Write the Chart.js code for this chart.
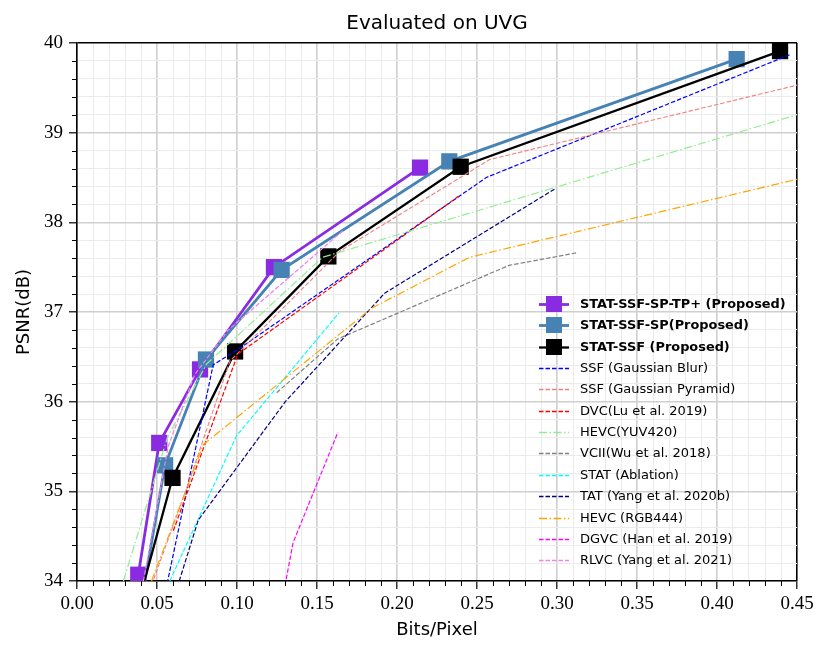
<!DOCTYPE html>
<html lang="en">
<head>
<meta charset="UTF-8">
<title>Evaluated on UVG</title>
<script src="https://cdn.jsdelivr.net/npm/chart.js"></script>
<style>
  html, body { margin: 0; padding: 0; background: #fff; }
  #wrap { width: 831px; height: 656px; }
</style>
</head>
<body>
<div id="wrap"><canvas id="rdChart"></canvas></div>
<script>
// rate-distortion points, [bits/pixel, PSNR(dB)]
const seriesNames = [
  'STAT-SSF-SP-TP+ (Proposed)', 'STAT-SSF-SP(Proposed)', 'STAT-SSF (Proposed)',
  'SSF (Gaussian Blur)', 'SSF (Gaussian Pyramid)', 'DVC(Lu et al. 2019)',
  'HEVC(YUV420)', 'VCII(Wu et al. 2018)', 'STAT (Ablation)',
  'TAT (Yang et al. 2020b)', 'HEVC (RGB444)', 'DGVC (Han et al. 2019)',
  'RLVC (Yang et al. 2021)'
];
const statSsfSpTp = [[0.0383, 34.07], [0.0514, 35.54], [0.0769, 36.36], [0.1231, 37.50], [0.2144, 38.61]];
const statSsfSp   = [[0.038, 33.55], [0.0550, 35.29], [0.0806, 36.47], [0.1279, 37.47], [0.2327, 38.68], [0.4123, 39.82]];
const statSsf     = [[0.036, 33.60], [0.0597, 35.15], [0.0988, 36.56], [0.1571, 37.62], [0.2398, 38.62], [0.4394, 39.91]];
const ssfBlur     = [[0.0555, 33.90], [0.0851, 36.41], [0.1029, 36.61], [0.2558, 38.50], [0.4456, 39.87]];
const ssfPyramid  = [[0.0465, 33.95], [0.0685, 35.03], [0.0955, 36.45], [0.1644, 37.68], [0.2579, 38.70], [0.4500, 39.53]];
const dvc         = [[0.0602, 34.56], [0.1005, 36.53], [0.2392, 38.30]];
const hevc420     = [[0.0290, 34.00], [0.0565, 35.60], [0.0810, 36.42], [0.1535, 37.61], [0.4500, 39.20]];
const vcii        = [[0.1248, 36.10], [0.1630, 36.70], [0.2700, 37.52], [0.3123, 37.66]];
const statAblation = [[0.0580, 34.00], [0.0997, 35.62], [0.1638, 36.99]];
const tat         = [[0.0639, 34.00], [0.0758, 34.68], [0.1302, 36.00], [0.1923, 37.21], [0.2984, 38.37]];
const hevc444     = [[0.0466, 34.00], [0.0789, 35.52], [0.1840, 37.04], [0.2453, 37.61], [0.4500, 38.48]];
const dgvc        = [[0.1300, 33.95], [0.1351, 34.43], [0.1631, 35.66]];
const rlvc        = [[0.0415, 34.00], [0.0570, 35.50], [0.0735, 36.30], [0.0946, 36.80], [0.1664, 37.91]];

const seriesData = [statSsfSpTp, statSsfSp, statSsf, ssfBlur, ssfPyramid, dvc,
  hevc420, vcii, statAblation, tat, hevc444, dgvc, rlvc];

const xMin = 0, xMax = 0.45, xStep = 0.01;
const yMin = 34, yMax = 40, yStep = 0.2;

// styles (kept apart from the values)
const DASH = [4.5, 2];
const DASHDOT = [8, 2.5, 1.5, 2.5];
const styles = [
  { color: '#8a2be2', width: 2.8, marker: true, bold: true },
  { color: '#4682b4', width: 2.8, marker: true, bold: true },
  { color: '#000000', width: 2.3, marker: true, bold: true },
  { color: '#0000ff', width: 1.2, dash: DASH },
  { color: '#f08080', width: 1.1, dash: DASH },
  { color: '#ff0000', width: 1.2, dash: DASH },
  { color: '#90ee90', width: 1.2, dash: DASHDOT },
  { color: '#808080', width: 1.2, dash: DASH },
  { color: '#00ffff', width: 1.2, dash: DASH },
  { color: '#000080', width: 1.2, dash: DASH },
  { color: '#ffa500', width: 1.2, dash: DASHDOT },
  { color: '#ff00ff', width: 1.2, dash: DASH },
  { color: '#ee82ee', width: 1.2, dash: DASH }
];

function isMajorX(v) { return Math.round(v * 100) % 5 === 0; }
function isMajorY(v) { return Math.round(v * 5) % 5 === 0; }

const datasets = seriesData.map(function (pts, i) {
  const s = styles[i];
  return {
    label: seriesNames[i],
    data: pts.map(function (p) { return { x: p[0], y: p[1] }; }),
    showLine: true,
    borderColor: s.color,
    backgroundColor: s.color,
    borderWidth: s.width,
    borderDash: s.dash || [],
    pointStyle: 'rect',
    pointRadius: s.marker ? 11.5 : 0,
    pointHoverRadius: s.marker ? 11.5 : 0,
    pointBorderWidth: 0,
    pointBackgroundColor: s.color,
    tension: 0,
    order: seriesData.length - i   // later series drawn on top
  };
});

// title centred over the plot area, like the axes title
const centerTitle = {
  id: 'centerTitle',
  afterLayout(chart) {
    const t = chart.titleBlock;
    if (!t) return;
    const mid = (chart.chartArea.left + chart.chartArea.right) / 2;
    const half = Math.min(mid, chart.width - mid);
    t.left = mid - half;
    t.right = mid + half;
    t.width = 2 * half;
  }
};

// short minor ticks outside the axes
const minorTicks = {
  id: 'minorTicks',
  afterDraw(chart) {
    const { ctx, chartArea, scales } = chart;
    ctx.save();
    ctx.strokeStyle = '#000';
    ctx.lineWidth = 1;
    ctx.beginPath();
    scales.x.ticks.forEach(function (t) {
      if (!isMajorX(t.value)) {
        const px = Math.round(scales.x.getPixelForValue(t.value)) + 0.5;
        ctx.moveTo(px, chartArea.bottom);
        ctx.lineTo(px, chartArea.bottom + 5);
      }
    });
    scales.y.ticks.forEach(function (t) {
      if (!isMajorY(t.value)) {
        const py = Math.round(scales.y.getPixelForValue(t.value)) + 0.5;
        ctx.moveTo(chartArea.left - 5, py);
        ctx.lineTo(chartArea.left, py);
      }
    });
    ctx.stroke();
    ctx.restore();
  }
};

// legend inside the lower right of the plot, no frame
const innerLegend = {
  id: 'innerLegend',
  afterDraw(chart) {
    const { ctx, chartArea } = chart;
    const x0 = Math.round(chartArea.right - 258);
    const y0 = chartArea.bottom - 277;
    const rowH = 21.35;
    ctx.save();
    chart.data.datasets.forEach(function (ds, i) {
      const s = styles[i];
      const y = Math.round(y0 + i * rowH) + 0.5;
      ctx.strokeStyle = ds.borderColor;
      ctx.lineWidth = s.marker ? ds.borderWidth : 1.4;
      ctx.setLineDash(ds.borderDash);
      ctx.beginPath();
      ctx.moveTo(x0, y);
      ctx.lineTo(x0 + 30, y);
      ctx.stroke();
      ctx.setLineDash([]);
      if (s.marker) {
        ctx.fillStyle = ds.borderColor;
        ctx.fillRect(x0 + 15 - 8, y - 8.5, 16, 16);
      }
      ctx.fillStyle = '#000';
      ctx.textBaseline = 'middle';
      ctx.font = s.bold ? 'bold 12.9px "DejaVu Sans"' : '13px "DejaVu Sans"';
      ctx.fillText(ds.label, x0 + 41, y + 0.5);
    });
    ctx.restore();
  }
};

const tickFont = { family: '"Liberation Serif"', size: 19 };
const labelFont = { family: '"DejaVu Sans"', size: 18 };

const ctx = document.getElementById('rdChart').getContext('2d');
const rdChart = new Chart(ctx, {
  type: 'scatter',
  data: { datasets: datasets },
  options: {
    responsive: true,
    maintainAspectRatio: false,
    animation: false,
    layout: { padding: { left: 0, right: 34, top: 0, bottom: 0 } },
    plugins: {
      legend: { display: false },
      tooltip: { enabled: false },
      title: {
        display: true,
        text: 'Evaluated on UVG',
        color: '#000',
        font: { family: '"DejaVu Sans"', size: 20, weight: 'normal' },
        padding: { top: 11.5, bottom: 7.5 }
      }
    },
    scales: {
      x: {
        type: 'linear',
        min: xMin,
        max: xMax,
        afterFit: function (scale) { scale.height = 75; },
        ticks: {
          stepSize: xStep,
          maxTicksLimit: 100,
          autoSkip: false,
          maxRotation: 0,
          padding: 4,
          color: '#000',
          font: tickFont,
          callback: function (v) { return isMajorX(v) ? v.toFixed(2) : ''; }
        },
        grid: {
          color: function (c) {
            const v = c.tick ? c.tick.value : 0;
            if (Math.abs(v - xMax) < 1e-9) return '#000';
            return isMajorX(v) ? '#cfcfcf' : '#ebebeb';
          },
          lineWidth: function (c) {
            const v = c.tick ? c.tick.value : 0;
            if (Math.abs(v - xMax) < 1e-9) return 1.6;
            return isMajorX(v) ? 1.6 : 1;
          },
          tickColor: function (c) {
            const v = c.tick ? c.tick.value : 0;
            return isMajorX(v) ? '#000' : 'rgba(0,0,0,0)';
          },
          tickLength: 8,
          tickWidth: 1.2
        },
        border: { display: true, color: '#000', width: 1.6 },
        title: {
          display: true,
          text: 'Bits/Pixel',
          color: '#000',
          font: labelFont,
          padding: { top: 0, bottom: 15 }
        }
      },
      y: {
        type: 'linear',
        min: yMin,
        max: yMax,
        afterFit: function (scale) { scale.width = 77; },
        ticks: {
          stepSize: yStep,
          maxTicksLimit: 100,
          autoSkip: false,
          padding: 6,
          color: '#000',
          font: tickFont,
          callback: function (v) { return isMajorY(v) ? String(Math.round(v)) : ''; }
        },
        grid: {
          color: function (c) {
            const v = c.tick ? c.tick.value : 0;
            if (Math.abs(v - yMax) < 1e-9) return '#000';
            return isMajorY(v) ? '#cfcfcf' : '#ebebeb';
          },
          lineWidth: function (c) {
            const v = c.tick ? c.tick.value : 0;
            if (Math.abs(v - yMax) < 1e-9) return 1.6;
            return isMajorY(v) ? 1.6 : 1;
          },
          tickColor: function (c) {
            const v = c.tick ? c.tick.value : 0;
            return isMajorY(v) ? '#000' : 'rgba(0,0,0,0)';
          },
          tickLength: 8,
          tickWidth: 1.2
        },
        border: { display: true, color: '#000', width: 1.6 },
        title: {
          display: true,
          text: 'PSNR(dB)',
          color: '#000',
          font: labelFont,
          padding: { top: 14, bottom: 0 }
        }
      }
    }
  },
  plugins: [centerTitle, minorTicks, innerLegend]
});
</script>
</body>
</html>
